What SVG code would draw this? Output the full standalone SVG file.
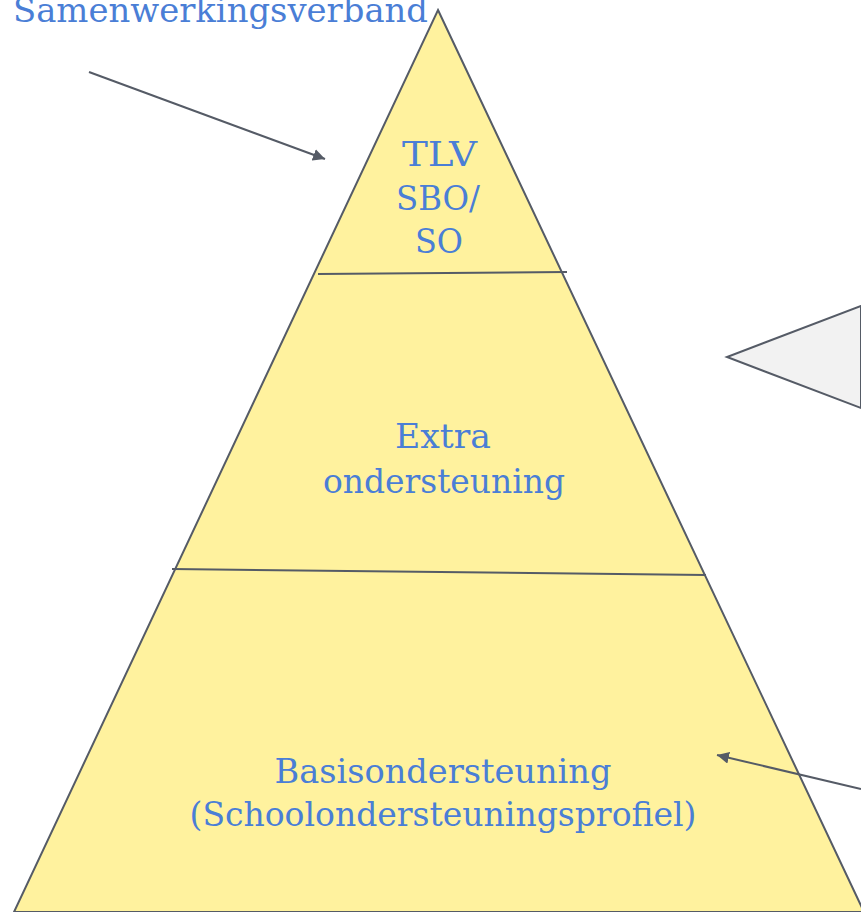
<svg xmlns="http://www.w3.org/2000/svg" width="861" height="912" viewBox="0 0 861 912">
<defs>
<style>
.lbl{font-family:"DejaVu Serif","Liberation Serif",serif;font-size:34px;fill:#4a7ed6;text-anchor:middle}
.ln{stroke:#555b66;stroke-width:2;fill:none}
</style>
<marker id="ah" viewBox="0 0 10 10" refX="10" refY="5" markerWidth="6" markerHeight="6" orient="auto" markerUnits="strokeWidth">
<path d="M0,0 L10,5 L0,10 z" fill="#555b66"/>
</marker>
</defs>
<rect width="861" height="912" fill="#ffffff"/>
<g id="pyramid">
<polygon points="438,10 864,912 14,912" fill="#fff29e" stroke="#555b66" stroke-width="2"/>
<line class="ln" x1="318" y1="274" x2="567" y2="272"/>
<line class="ln" x1="172" y1="569" x2="706" y2="575"/>
</g>
<g id="top">
<text class="lbl" x="439.5" y="166" textLength="75" lengthAdjust="spacingAndGlyphs">TLV</text>
<text class="lbl" x="438" y="210" textLength="84" lengthAdjust="spacingAndGlyphs">SBO/</text>
<text class="lbl" x="439" y="253" textLength="48" lengthAdjust="spacingAndGlyphs">SO</text>
</g>
<g id="middle">
<text class="lbl" x="443" y="448" textLength="96" lengthAdjust="spacingAndGlyphs">Extra</text>
<text class="lbl" x="444" y="493" textLength="242" lengthAdjust="spacingAndGlyphs">ondersteuning</text>
</g>
<g id="bottom">
<text class="lbl" x="443" y="783" textLength="337" lengthAdjust="spacingAndGlyphs">Basisondersteuning</text>
<text class="lbl" x="443" y="826" textLength="507" lengthAdjust="spacingAndGlyphs">(Schoolondersteuningsprofiel)</text>
</g>
<g id="samenwerkingsverband">
<text class="lbl" x="220.5" y="22" textLength="415" lengthAdjust="spacingAndGlyphs">Samenwerkingsverband</text>
</g>
<g id="callout">
<polygon points="861,306 727,357 861,408" fill="#f2f2f2" stroke="#555b66" stroke-width="2"/>
</g>
<g id="connectors">
<line class="ln" x1="89" y1="72" x2="325" y2="159" marker-end="url(#ah)"/>
<line class="ln" x1="861" y1="789" x2="717" y2="755" marker-end="url(#ah)"/>
</g>
</svg>
